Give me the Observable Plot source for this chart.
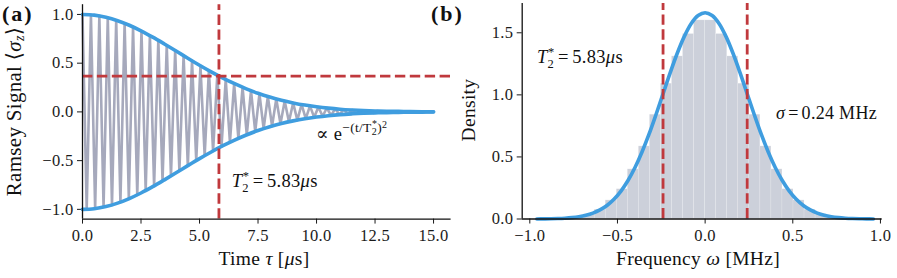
<!DOCTYPE html>
<html><head><meta charset="utf-8">
<script src="https://cdn.jsdelivr.net/npm/d3@7"></script>
<script src="https://cdn.jsdelivr.net/npm/@observablehq/plot@0.6"></script>
<style>
body{margin:0;background:#fff;}
#wrap{position:relative;width:897px;height:278px;display:flex;}
</style></head><body><div id="wrap"></div>
<script>
// ---------- data: panel (a) Ramsey signal ----------
const oscTimes = [0,0.18,0.36,0.54,0.72,0.9,1.08,1.26,1.44,1.62,1.8,1.98,2.16,2.34,2.52,2.7,2.88,3.06,3.24,3.42,3.6,3.78,3.96,4.14,4.32,4.5,4.68,4.86,5.04,5.22,5.4,5.58,5.76,5.94,6.12,6.3,6.48,6.66,6.84,7.02,7.2,7.38,7.56,7.74,7.92,8.1,8.28,8.46,8.64,8.82,9,9.18,9.36,9.54,9.72,9.9,10.08,10.26,10.44,10.62,10.8,10.98,11.16,11.34,11.52,11.7,11.88,12.06,12.24,12.42,12.6,12.78,12.96,13.14,13.32,13.5,13.68,13.86,14.04,14.22,14.4,14.58,14.76,14.94];
const oscValues = [1.000,-0.999,0.996,-0.991,0.985,-0.976,0.966,-0.954,0.941,-0.926,0.909,-0.891,0.872,-0.851,0.830,-0.807,0.783,-0.759,0.734,-0.709,0.683,-0.657,0.630,-0.604,0.577,-0.551,0.525,-0.499,0.474,-0.449,0.424,-0.400,0.377,-0.354,0.332,-0.311,0.291,-0.271,0.252,-0.235,0.218,-0.201,0.186,-0.172,0.158,-0.145,0.133,-0.122,0.111,-0.101,0.092,-0.084,0.076,-0.069,0.062,-0.056,0.050,-0.045,0.040,-0.036,0.032,-0.029,0.026,-0.023,0.020,-0.018,0.016,-0.014,0.012,-0.011,0.009,-0.008,0.007,-0.006,0.005,-0.004,0.004,-0.003,0.003,-0.002,0.002,-0.002,0.001,-0.001];
const envTimes = [0,0.5,1,1.5,2,2.5,3,3.5,4,4.5,5,5.5,6,6.5,7,7.5,8,8.5,9,9.5,10,10.5,11,11.5,12,12.5,13,13.5,14,14.5,15];
const envValues = [1.000,0.993,0.971,0.936,0.889,0.832,0.767,0.697,0.625,0.551,0.479,0.411,0.347,0.289,0.237,0.191,0.152,0.119,0.092,0.070,0.053,0.039,0.028,0.020,0.014,0.010,0.007,0.005,0.003,0.002,0.001];
const T2star = 5.83;       // µs
const invE = 0.368;        // 1/e level
const xTicksA = [0,2.5,5,7.5,10,12.5,15];
const yTicksA = [-1,-0.5,0,0.5,1];

// ---------- data: panel (b) frequency histogram ----------
const binEdges = [-0.882,-0.819,-0.756,-0.693,-0.630,-0.567,-0.504,-0.441,-0.378,-0.315,-0.252,-0.189,-0.126,-0.063,0,0.063,0.126,0.189,0.252,0.315,0.378,0.441,0.504,0.567,0.630,0.693,0.756,0.819,0.882];
const binDensity = [0.003,0.007,0.018,0.037,0.075,0.15,0.24,0.40,0.585,0.84,1.09,1.31,1.49,1.60,1.60,1.49,1.31,1.09,0.84,0.585,0.40,0.24,0.15,0.075,0.037,0.018,0.007,0.003];
const gaussX = [-0.96,-0.92,-0.88,-0.84,-0.80,-0.76,-0.72,-0.68,-0.64,-0.60,-0.56,-0.52,-0.48,-0.44,-0.40,-0.36,-0.32,-0.28,-0.24,-0.20,-0.16,-0.12,-0.08,-0.04,0,0.04,0.08,0.12,0.16,0.20,0.24,0.28,0.32,0.36,0.40,0.44,0.48,0.52,0.56,0.60,0.64,0.68,0.72,0.76,0.80,0.84,0.88,0.92,0.96];
const gaussY = [0.0006,0.001,0.002,0.0036,0.0064,0.011,0.0185,0.030,0.0475,0.073,0.109,0.159,0.225,0.310,0.415,0.540,0.683,0.842,1.008,1.175,1.331,1.467,1.573,1.639,1.662,1.639,1.573,1.467,1.331,1.175,1.008,0.842,0.683,0.540,0.415,0.310,0.225,0.159,0.109,0.073,0.0475,0.030,0.0185,0.011,0.0064,0.0036,0.002,0.001,0.0006];
const sigmaMHz = 0.24;
const xTicksB = [-1,-0.5,0,0.5,1];
const yTicksB = [0,0.5,1,1.5];

// ---------- styles ----------
const FONT = '"Liberation Serif","DejaVu Serif",serif';
const BLUE = "#3f9ddf", RED = "#c0393d", GRAY = "#a6a9bc", HIST = "#ccd0da";
const fmt = d3.format(".1f");
const baseStyle = {fontFamily: FONT, fontSize: "16.5px", color: "#1a1a1a", background: "transparent", overflow: "visible", letterSpacing: "0.3px"};

function rich(svg, x, y, parts, o = {}) {
  const t = d3.select(svg).append("text").attr("x", x).attr("y", y)
    .attr("font-family", FONT).attr("font-size", o.size || 17).attr("fill", "#111")
    .attr("text-anchor", o.anchor || "start");
  if (o.transform) t.attr("transform", o.transform);
  if (o.weight) t.attr("font-weight", o.weight);
  if (o.ls) t.attr("letter-spacing", o.ls);
  for (const p of parts) {
    const s = t.append("tspan").text(p.t);
    if (p.i) s.attr("font-style", "italic");
    if (p.s) s.attr("font-size", p.s);
    if (p.dx) s.attr("dx", p.dx);
    if (p.dy) s.attr("dy", p.dy);
  }
  return t;
}
const T2parts = [{t:"T", i:1}, {t:"2", s:12.5, dy:4.5}, {t:"*", s:12.5, dx:-6.2, dy:-12}, {t:"=", dx:3.5, dy:7.5}, {t:"5.83", dx:3.5}, {t:"μ", i:1}, {t:"s"}];

// ---------- panel (a) ----------
const plotA = Plot.plot({
  width: 451, height: 278,
  marginLeft: 82, marginRight: 0.4, marginTop: 4.2, marginBottom: 59.4,
  style: baseStyle,
  x: {domain: [0, 15.75], ticks: xTicksA, tickFormat: fmt, tickSize: 5, tickPadding: 5, label: null},
  y: {domain: [-1.1, 1.1], ticks: yTicksA, tickFormat: fmt, tickSize: 5, tickPadding: 4, label: null},
  marks: [
    Plot.line(oscTimes, {x: d => d, y: (d, i) => oscValues[i], stroke: GRAY, strokeWidth: 2.6}),
    Plot.line(envTimes, {x: d => d, y: (d, i) => envValues[i], stroke: BLUE, strokeWidth: 3.6, curve: "catmull-rom"}),
    Plot.line(envTimes, {x: d => d, y: (d, i) => -envValues[i], stroke: BLUE, strokeWidth: 3.6, curve: "catmull-rom"}),
    Plot.ruleY([invE], {stroke: RED, strokeWidth: 2.8, strokeDasharray: "10.4,4.5"}),
    Plot.ruleX([T2star], {y1: -1.1, y2: 1.1, stroke: RED, strokeWidth: 2.8, strokeDasharray: "10.4,4.5"}),
    Plot.ruleX([0], {stroke: "#111", strokeWidth: 1.3}),
    Plot.ruleY([-1.1], {stroke: "#111", strokeWidth: 1.3})
  ]
});
document.getElementById("wrap").appendChild(plotA);
{
  const sx = plotA.scale("x"), sy = plotA.scale("y");
  rich(plotA, 2, 21, [{t:"(a)"}], {size: 22, weight: "bold", ls: "2px"});
  rich(plotA, 431, 21, [{t:"(b)"}], {size: 22, weight: "bold", ls: "2px"});
  rich(plotA, sx.apply(6.4), sy.apply(-0.78), T2parts, {size: 18.5});
  rich(plotA, sx.apply(10.0), sy.apply(-0.29),
    [{t:"∝ e"}, {t:"−(t/T", s:13.5, dy:-8}, {t:"2", s:10, dy:3}, {t:"*", s:10, dx:-5, dy:-7.5}, {t:")", s:13.5, dy:4.5}, {t:"2", s:10, dy:-4}], {size: 18.5});
  rich(plotA, 264, 265, [{t:"Time "}, {t:"τ", i:1}, {t:" ["}, {t:"μ", i:1}, {t:"s]"}], {size: 19.5, anchor: "middle"});
  rich(plotA, 0, 0, [{t:"Ramsey Signal ⟨"}, {t:"σ", i:1}, {t:"z", i:1, s:14, dy:3}, {t:"⟩", dy:-3}], {size: 21, anchor: "middle", transform: "translate(20.5,111.5) rotate(-90)"});
}

// ---------- panel (b) ----------
const bins = binDensity.map((v, i) => ({x1: binEdges[i], x2: binEdges[i + 1], y: v}));
const plotB = Plot.plot({
  width: 446, height: 278,
  marginLeft: 70.7, marginRight: 15.3, marginTop: 3, marginBottom: 59.5,
  style: baseStyle,
  x: {domain: [-1.0434, 1.01], ticks: xTicksB, tickFormat: fmt, tickSize: 5, tickPadding: 5, label: null},
  y: {domain: [0, 1.736], ticks: yTicksB, tickFormat: fmt, tickSize: 5, tickPadding: 4, label: null},
  marks: [
    Plot.rectY(bins, {x1: "x1", x2: "x2", y: "y", fill: HIST, stroke: "white", strokeWidth: 0.6, strokeOpacity: 0.25}),
    Plot.line(gaussX, {x: d => d, y: (d, i) => gaussY[i], stroke: BLUE, strokeWidth: 3.6, curve: "catmull-rom"}),
    Plot.ruleX([-sigmaMHz, sigmaMHz], {y1: 0, y2: 1.736, stroke: RED, strokeWidth: 2.8, strokeDasharray: "10.4,4.5"}),
    Plot.ruleX([-1.0434], {stroke: "#111", strokeWidth: 1.3}),
    Plot.ruleY([0], {stroke: "#111", strokeWidth: 1.3})
  ]
});
document.getElementById("wrap").appendChild(plotB);
{
  const sx = plotB.scale("x"), sy = plotB.scale("y");
  rich(plotB, sx.apply(-0.956), sy.apply(1.252), T2parts, {size: 18.5});
  rich(plotB, sx.apply(0.407), sy.apply(0.80), [{t:"σ", i:1}, {t:"=", dx:3}, {t:"0.24 MHz", dx:3}], {size: 18});
  rich(plotB, 247, 265, [{t:"Frequency "}, {t:"ω", i:1}, {t:" [MHz]"}], {size: 19.5, anchor: "middle"});
  rich(plotB, 0, 0, [{t:"Density"}], {size: 19.5, anchor: "middle", transform: "translate(23.5,110) rotate(-90)"});
}
</script></body></html>
